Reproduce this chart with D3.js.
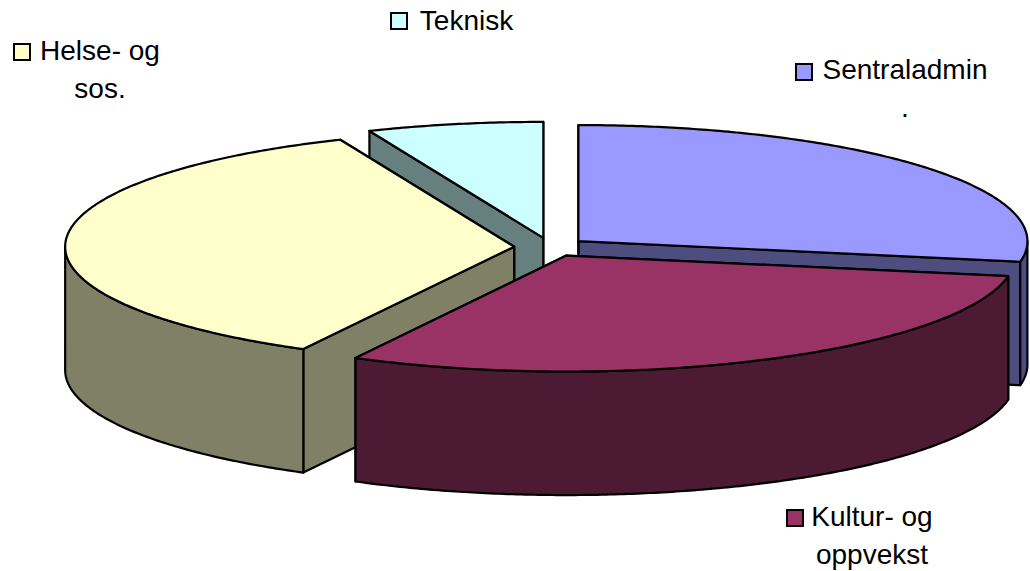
<!DOCTYPE html>
<html>
<head>
<meta charset="utf-8">
<script src="https://cdn.jsdelivr.net/npm/d3@7"></script>
<style>html,body{margin:0;padding:0;background:#fff}svg{display:block}</style>
</head>
<body>
<svg id="chart" width="1030" height="571"></svg>
<script>
// Data (share in percent)
const categories = ["Sentraladmin.", "Kultur- og oppvekst", "Helse- og sos.", "Teknisk"];
const values = [27.85, 29.93, 35.89, 6.33];
const legendLines = [["Sentraladmin", "."], ["Kultur- og", "oppvekst"], ["Helse- og", "sos."], ["Teknisk"]];

// Styles and layout
const topColors = ["#9999FF", "#993366", "#FFFFCC", "#CCFFFF"];
const sideColors = ["#4D4D80", "#4D1A33", "#808066", "#668080"];
const legendPos = [
  {sx: 796, sy: 64, cx: 905, base: 79},
  {sx: 787, sy: 510, cx: 872, base: 526},
  {sx: 14, sy: 44, cx: 100, base: 60},
  {sx: 391, sy: 13, cx: 466.5, base: 30}
];
const lineStep = 37.5, swatch = 16, fontSize = 28;
const cx = 550.5, cy = 247.1, rx = 449, ry = 116, depth = 123.5, explode = 0.081;
const drawOrder = [3, 0, 2, 1];

const svg = d3.select("#chart");
const x = d3.scaleLinear().domain([-1, 1]).range([cx - rx, cx + rx]);
const y = d3.scaleLinear().domain([-1, 1]).range([cy - ry, cy + ry]);

const arcs = d3.pie().sort(null).value(d => d)(values);

const line = d3.line().x(d => d[0]).y(d => d[1]);
const pt = (o, t, dz = 0) => [x(o[0] + Math.sin(t)), y(o[1] - Math.cos(t)) + dz];
const apex = (o, dz = 0) => [x(o[0]), y(o[1]) + dz];
const sample = (a, b) => {
  const n = Math.max(2, Math.ceil(Math.abs(b - a) / 0.01));
  return d3.range(n + 1).map(i => a + (b - a) * i / n);
};

const strokeW = 2.2;
const groups = svg.selectAll("g.slice").data(drawOrder).join("g").attr("class", "slice");

groups.each(function (i) {
  const g = d3.select(this), a = arcs[i];
  const mid = (a.startAngle + a.endAngle) / 2;
  const o = [explode * Math.sin(mid), -explode * Math.cos(mid)];
  const face = (t) => [apex(o), pt(o, t), pt(o, t, depth), apex(o, depth)];
  const style = (sel, fill) => sel.attr("fill", fill).attr("stroke", "#000")
    .attr("stroke-width", strokeW).attr("stroke-linejoin", "round");

  // radial cut faces
  [a.endAngle, a.startAngle].forEach(t => {
    style(g.append("path").attr("d", line(face(t)) + "Z"), sideColors[i]);
  });
  // outer rim: only the front half of the ellipse is visible
  const r0 = Math.max(a.startAngle, Math.PI / 2), r1 = Math.min(a.endAngle, 3 * Math.PI / 2);
  if (r1 > r0) {
    const ts = sample(r0, r1);
    const rim = ts.map(t => pt(o, t)).concat(ts.slice().reverse().map(t => pt(o, t, depth)));
    style(g.append("path").attr("d", line(rim) + "Z"), sideColors[i]);
  }
  // top surface
  const top = [apex(o)].concat(sample(a.startAngle, a.endAngle).map(t => pt(o, t)));
  style(g.append("path").attr("d", line(top) + "Z"), topColors[i]);
});

// Legend
const legend = svg.selectAll("g.legend").data(categories).join("g").attr("class", "legend");
legend.append("rect")
  .attr("x", (d, i) => legendPos[i].sx).attr("y", (d, i) => legendPos[i].sy)
  .attr("width", swatch).attr("height", swatch)
  .attr("fill", (d, i) => topColors[i]).attr("stroke", "#000").attr("stroke-width", 2);
legend.each(function (d, i) {
  d3.select(this).selectAll("text").data(legendLines[i]).join("text")
    .attr("x", legendPos[i].cx)
    .attr("y", (t, k) => legendPos[i].base + k * lineStep)
    .attr("text-anchor", "middle")
    .attr("font-family", "'Liberation Sans', Arial, sans-serif")
    .attr("font-size", fontSize)
    .attr("fill", "#000")
    .text(t => t);
});
</script>
</body>
</html>
